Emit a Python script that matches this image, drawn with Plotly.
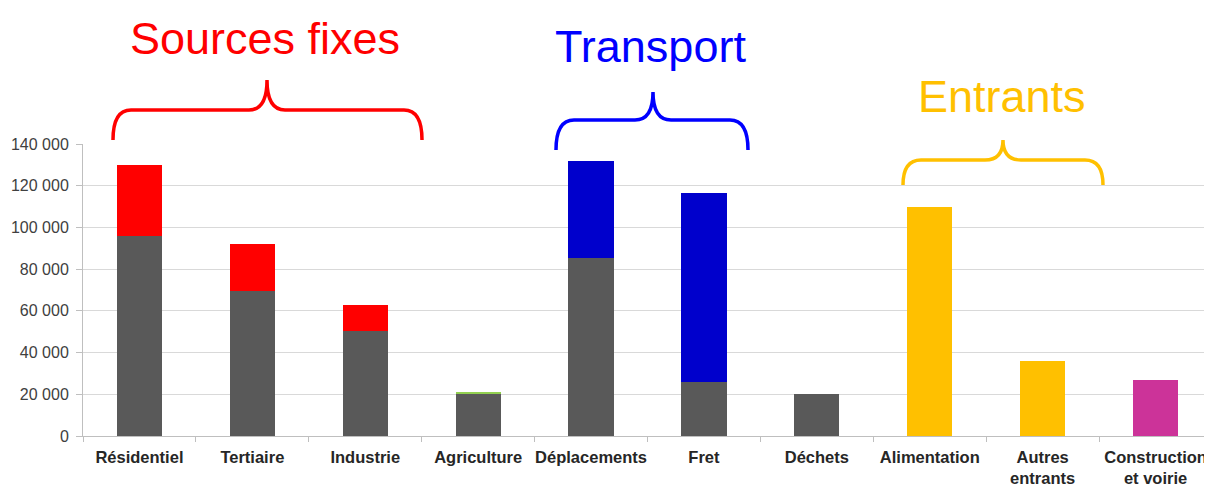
import plotly.graph_objects as go

categories = ["Résidentiel", "Tertiaire", "Industrie", "Agriculture", "Déplacements",
              "Fret", "Déchets", "Alimentation", "Autres<br>entrants", "Construction<br>et voirie"]
energie = [96000, 69500, 50300, 20300, 85300, 25900, 20100, None, None, None]
sources_fixes_autres = [34000, 22500, 12500, None, None, None, None, None, None, None]
agriculture_autres = [None, None, None, 600, None, None, None, None, None, None]
transport_autres = [None, None, None, None, 46500, 90600, None, None, None, None]
entrants = [None, None, None, None, None, None, None, 109800, 36000, None]
construction = [None, None, None, None, None, None, None, None, None, 27000]

OFF = 8  # page body margin offset
W, H = 1212 - OFF, 484 - OFF
ML, MR, MT, MB = 83 - OFF, 0, 144 - OFF, 48
PW, PH = W - ML - MR, H - MT - MB

fig = go.Figure()
for vals, col in [(energie, "#595959"), (sources_fixes_autres, "#FF0000"),
                  (agriculture_autres, "#92D050"), (transport_autres, "#0000CC"),
                  (entrants, "#FFC000"), (construction, "#CC3399")]:
    fig.add_trace(go.Bar(x=categories, y=vals, marker=dict(color=col, line=dict(width=0)),
                         width=0.4, showlegend=False))

def px2paper(x, y):
    # x, y in page pixel coordinates
    x -= OFF
    y -= OFF
    return (x - ML) / PW, (MT + PH - y) / PH

def brace(x0, x1, xp, yend, ymid, ypeak, r=18):
    def P(x, y):
        a, b = px2paper(x, y)
        return f"{a:.5f},{b:.5f}"
    return (f"M {P(x0, yend)} Q {P(x0, ymid)} {P(x0 + r, ymid)} "
            f"L {P(xp - r, ymid)} Q {P(xp, ymid)} {P(xp, ypeak)} "
            f"Q {P(xp, ymid)} {P(xp + r, ymid)} "
            f"L {P(x1 - r, ymid)} Q {P(x1, ymid)} {P(x1, yend)}")

braces = [
    (113, 422, 267, 140, 110, 80, "#FF0000", "Sources fixes", 265, 38),
    (556, 748, 653, 150, 120, 92, "#0000FF", "Transport", 650, 46),
    (903, 1103, 1003, 185, 160, 140, "#FFC000", "Entrants", 1002, 97),
]
for x0, x1, xp, ye, ym, ypk, col, label, tx, ty in braces:
    fig.add_shape(type="path", path=brace(x0, x1, xp, ye, ym, ypk), xref="paper", yref="paper",
                  line=dict(color=col, width=3.5), layer="above")
    ax, ay = px2paper(tx, ty)
    fig.add_annotation(text=label, x=ax, y=ay, xref="paper", yref="paper", showarrow=False,
                       xanchor="center", yanchor="middle",
                       font=dict(family="Liberation Sans, Arial", size=45, color=col))

fig.update_layout(
    width=W, height=H, barmode="stack", bargap=0.6,
    margin=dict(l=ML, r=MR, t=MT, b=MB, pad=0, autoexpand=False),
    plot_bgcolor="white", paper_bgcolor="white",
    separators=", ",
    font=dict(family="Liberation Sans, Arial", color="#404040"),
    xaxis=dict(type="category", showline=True, linecolor="#BFBFBF", linewidth=1,
               ticks="outside", tickson="boundaries", ticklen=5, tickcolor="#BFBFBF",
               tickangle=0, automargin=False, ticklabelstandoff=6,
               tickfont=dict(size=16.5, color="#262626", weight="bold"), showgrid=False),
    yaxis=dict(range=[0, 140000], dtick=20000, tickformat=",d", showline=True,
               linecolor="#BFBFBF", ticks="outside", ticklen=6, tickcolor="#BFBFBF",
               gridcolor="#D9D9D9", gridwidth=1, zeroline=False, automargin=False,
               ticklabelstandoff=4,
               tickfont=dict(size=16, color="#404040")),
)
fig.write_html("out.html")
